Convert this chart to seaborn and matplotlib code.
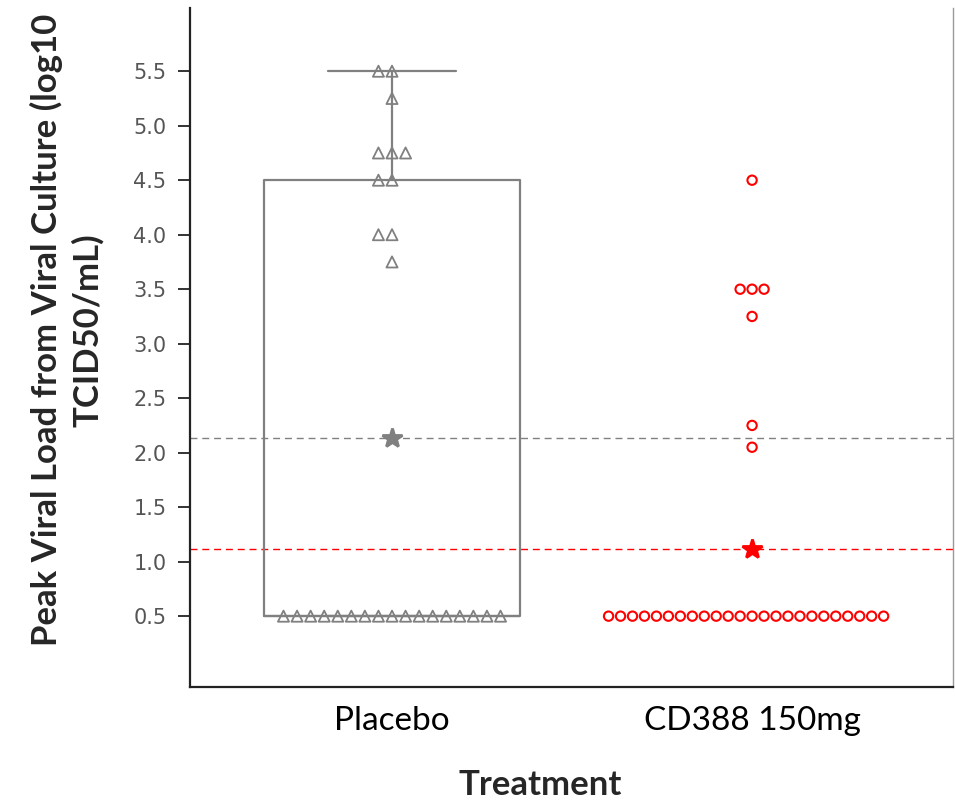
import pandas as pd
import seaborn as sns
import matplotlib.pyplot as plt
import numpy as np

# Valores (log10 TCID50/mL)
grupos = ['Placebo', 'CD388 150mg']
placebo = [5.5, 5.5, 5.25, 4.75, 4.75, 4.75, 4.5, 4.5, 4.0, 4.0, 3.75] + [0.5] * 17
cd388 = [4.5, 3.5, 3.5, 3.5, 3.25, 2.25, 2.05] + [0.5] * 24
yticks = [0.5, 1.0, 1.5, 2.0, 2.5, 3.0, 3.5, 4.0, 4.5, 5.0, 5.5]

df = pd.DataFrame({
    'Treatment': ['Placebo'] * len(placebo) + ['CD388 150mg'] * len(cd388),
    'Load': placebo + cd388,
})
df_pla = df[df['Treatment'] == 'Placebo']
df_cd = df[df['Treatment'] == 'CD388 150mg']

gris = '#808080'
rojo = '#ff0000'

sns.set_style('ticks')
plt.rcParams['font.family'] = ['Lato', 'DejaVu Sans']

fig = plt.figure(figsize=(9.55, 8.02), dpi=100)
ax = fig.add_axes([190 / 955, 115 / 802, 763 / 955, 679 / 802])

# caja solo para placebo
sns.boxplot(data=df_pla, x='Treatment', y='Load', order=grupos, width=0.71,
            fill=False, color=gris, linewidth=1.6, showfliers=False, ax=ax)

# puntos individuales
sns.swarmplot(data=df_pla, x='Treatment', y='Load', order=grupos, marker='^',
              size=8, color='white', edgecolor=gris, linewidth=1.3,
              warn_thresh=1, ax=ax)
sns.swarmplot(data=df_cd, x='Treatment', y='Load', order=grupos, marker='o',
              size=6.7, color='white', edgecolor=rojo, linewidth=1.5,
              warn_thresh=1, ax=ax)
for coll in ax.collections:
    coll.set_facecolor('none')

# medias con estrella
sns.pointplot(data=df_pla, x='Treatment', y='Load', order=grupos, estimator='mean',
              errorbar=None, markers='*', linestyles='none', color=gris,
              markersize=15, ax=ax)
sns.pointplot(data=df_cd, x='Treatment', y='Load', order=grupos, estimator='mean',
              errorbar=None, markers='*', linestyles='none', color=rojo,
              markersize=15, ax=ax)

ax.axhline(np.mean(placebo), color=gris, ls=(0, (5, 3.5)), lw=1.0, zorder=0)
ax.axhline(np.mean(cd388), color=rojo, ls=(0, (5, 3.5)), lw=1.0, zorder=0)

ax.set_xlim(-0.561, 1.558)
ax.set_ylim(-0.15, 6.08)
ax.set_yticks(yticks)
ax.set_yticklabels([f'{v:.1f}' for v in yticks], family='DejaVu Sans',
                   fontsize=15, color='#555555')
ax.tick_params(axis='y', length=9, width=1.4, color='#333333', pad=8)
ax.tick_params(axis='x', length=0, pad=14, labelsize=24, labelcolor='black')

for s in ['left', 'bottom']:
    ax.spines[s].set_color('#222222')
    ax.spines[s].set_linewidth(1.6)
ax.spines['top'].set_visible(False)
ax.spines['right'].set_color('#999999')
ax.spines['right'].set_linewidth(1.0)

ax.set_xlabel('Treatment', fontsize=25, fontweight='bold')
ax.set_ylabel('Peak Viral Load from Viral Culture (log10\nTCID50/mL)',
              fontsize=25, fontweight='bold', linespacing=1.3)
ax.xaxis.set_label_coords(350 / 763, -82 / 679)
ax.yaxis.set_label_coords(-86 / 763, 357 / 679)

fig.savefig('out.png', dpi=100)
